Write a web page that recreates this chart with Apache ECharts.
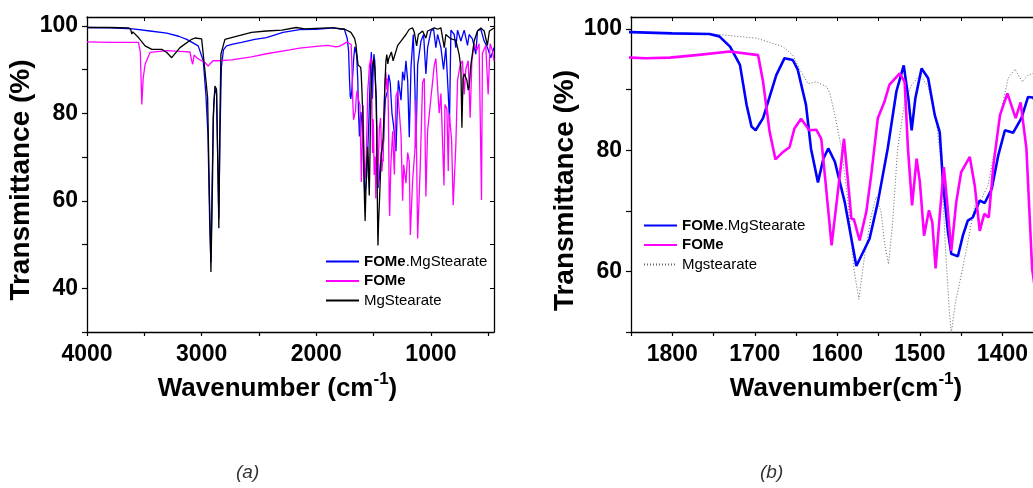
<!DOCTYPE html>
<html>
<head>
<meta charset="utf-8">
<script src="https://cdn.jsdelivr.net/npm/echarts@6/dist/echarts.min.js"></script>
<style>html,body{margin:0;padding:0;background:#fff}#c{width:1033px;height:488px}</style>
</head>
<body>
<div id="c"></div>
<script>
// ---------- data (wavenumber cm-1, transmittance %) ----------
const blueWn = [4000,3800,3600,3450,3304,3200,3130,3030,2986,2963,2945,2930,2919,2908,2895,2884,2870,2860,2850,2840,2828,2810,2783,2728,2652,2537,2435,2290,2145,2000,1900,
 1850,1800,1755,1743,1730,1718,1710,1704,1699,1690,1674,1664,1654,1648,1638,1632,1623.5,1617,1611,1603,1591,1577,1567,1561,1551,1539,1528.5,1519.6,1514,1510,1505.5,1498,1490,1482,1476,1472,1466,1462,1460,1454,1448,1442,1436,1427.5,1421.5,1413,1405,1397,1387,1377,1369,1363,
 1355,1340,1325,1305,1290,1284,1261,1247,1232,1218,1203,1189,1174,1154,1139,1131,1116,1087,1064,1044,1029,1000,977,957,942,913,890,870,850,838,826,797,783,768,739,710,681,667,638,609,594,565,536,507,478,450];
const blueT = [99.6,99.5,99.3,98.8,98.3,97.6,96.9,95.4,92.0,84.3,75,55,46,65,82,85.5,84.5,70,56,75,90.5,94.5,95.4,95.8,96.2,96.9,97.3,98.5,99.1,99.2,99.4,
 99.5,99.3,99.2,98.8,97.1,94.1,87.5,83.9,83.3,85.3,92.4,95.2,94.9,93.3,87.5,80.3,74.7,78.6,80.3,78.1,71.4,60.9,63.7,65.4,71.4,80.3,89.7,94.0,88.6,83.3,88.6,93.5,91.9,85.8,83.0,74.7,66.5,62.9,63.0,62.5,65.9,68.4,68.9,71.7,71.3,73.6,79.2,83.3,82.9,85.3,88.8,88.7,
 87,80,77,71.3,84,87.5,83,89.5,87.5,92,87.5,74.5,90.5,98,85,72.1,91,96.5,98,89,95,98.8,99.2,95,98,95,90,95,85,78,99,98,95,99,96.5,99,95.5,98,97,93.5,98.8,99.2,96.5,95,92.7,95];

const magWn = [4000,3800,3600,3551,3535,3522,3510,3493,3450,3304,3150,3102,3087,3078,3065,3040,3000,2971,2943,2920,2900,2856,2739,2565,2435,2232,2145,2000,1900,
 1850,1832,1803,1771,1730,1696,1690,1682,1675,1666,1658,1652,1644,1634,1625.5,1619.5,1613.5,1607,1599,1592,1587,1583,1580,1573,1565,1559,1551,1543,1537,1524.5,1518.5,1514.5,1509.5,1504,1500,1495,1489,1485,1481,1476,1471,1467,1462,1456,1450,1439.6,1433.6,1427.5,1422,1420,1416.6,1411,1403,1394,1384,1378,1371,1364,
 1360,1350,1334,1319,1305,1290,1261,1247,1238,1218,1203,1189,1180,1160,1139,1131,1116,1093,1073,1058,1044,1029,1000,971,957,928,913,886,878,861,849,841,820,806,783,768,745,725,710,696,675,658,643,623,600,580,559,551,522,501,484,464,450];
const magT = [96.3,96.2,96.2,96.2,94,82.0,88,91.2,93.9,94.3,94.1,94.0,92.0,91.2,93.3,92.6,92,91.6,90.8,91.5,92,92,92.2,92.9,93.6,94.5,94.9,95.3,95.5,
 95.3,95.2,95.3,95.7,96.3,95.7,91.3,83.0,78.5,79.7,80.5,83.6,85.2,83.3,83.4,81.9,73.6,64.3,73.6,81.9,74.7,68.7,68.6,65.1,69.8,75.9,85.3,88.0,90.8,92.7,91.3,80.3,70.9,78.6,74.7,65.9,70.1,68.1,60.5,69.2,77.2,71.4,63.4,71.4,76.4,78.9,74.2,66.7,69.5,69.8,68.9,77.5,85.8,89.4,85.3,87.9,80.3,60.4,
 56.5,68,75.9,66,84,85.1,75.1,60,68.2,64.0,71,69,52.2,64.5,72,83,51.4,68,87,88,61,76,83.5,91,92.5,80,84.5,63.5,82,81,66.8,80,74,59,72.6,87.5,91,92,84.3,90,92,79,92,95.9,94.4,95.9,60.2,93.7,95.5,84.3,95.9,94.4,92];

const mgWn = [4000,3800,3638,3620,3609,3600,3551,3493,3435,3348,3304,3261,3189,3087,3058,3000,2986,2971,2957,2948,2935,2919,2905,2899,2884,2870,2860,2850,2840,2832,2797,2682,2565,2435,2300,2175,2100,2000,1900,
 1850,1751,1698,1666,1654,1646,1635.6,1625.5,1613,1609,1603,1595,1587,1580,1574,1567,1559,1553,1547,1543,1538,1533,1527,1518.4,1510,1500,1490,1480,1474,1469,1464,1462,1457,1450,1442,1433.5,1425.5,1417.5,1409,1401,1393,1385,1376,1369,1363,
 1345,1330,1319,1290,1261,1218,1189,1160,1145,1125,1110,1073,1044,1029,971,942,913,884,870,826,783,754,739,730,720,710,687,675,667,652,623,594,565,536,508,490,450];
const mgT = [99.6,99.6,99.5,99.3,98.1,98.6,97.3,95.4,94.6,94.6,93.9,92.7,95.0,96.9,97.2,97,96.6,89.7,89.3,83.6,65,43.7,65,79,86.2,85.5,70,53.7,80,93.5,96.9,97.7,98.5,98.8,99.0,99.6,99.3,99.4,99.5,
 99.5,99.2,98.5,97.1,95.7,93.5,91.0,91.3,90.5,89.4,85.8,80.3,71.4,60.4,55.4,62.6,69.2,72.3,69.8,64.8,61.2,68.1,80.3,88.0,90.8,92.4,90.5,84.7,77.5,63.7,52.7,49.8,54.9,59.3,64.8,70.9,72.0,74.2,80.3,86.9,91.9,93.4,91.3,92.4,92.7,
 94,92,92,95.5,96.5,98,99.2,99.5,98.5,95.4,98,98.8,97.2,98.8,99.5,99.2,99.5,95,98,97,96.7,93.4,90.5,76.7,88,89,87.6,85.3,86,91,96.5,98.8,99.5,98.8,95.5,98.8,99.5];

// ticks / labels
const xTicksA = [500,1000,1500,2000,2500,3000,3500,4000];
const xLabelsA = [1000,2000,3000,4000];
const yTicksA = [30,40,50,60,70,80,90,100];
const yLabelsA = [40,60,80,100];
const xTicksB = [1350,1400,1450,1500,1550,1600,1650,1700,1750,1800,1850];
const xLabelsB = [1400,1500,1600,1700,1800];
const yTicksB = [50,60,70,80,90,100];
const yLabelsB = [60,80,100];

const zip = (a, b) => a.map((v, i) => [v, b[i]]);

const FONT = "'Liberation Sans', Arial, sans-serif";
const AX = '#000';

function bottomX(grid, min, max, ticks, labels, name, pad) {
  return {
    type: 'value', gridIndex: grid, min, max, inverse: true, position: 'bottom',
    axisLine: {show: true, onZero: false, lineStyle: {color: AX, width: 1.3}},
    axisTick: {show: true, inside: false, length: 4, customValues: ticks, lineStyle: {color: AX, width: 1.2}},
    axisLabel: {show: true, customValues: labels, margin: 11, color: '#000', fontSize: 23, fontWeight: 'bold', fontFamily: FONT, formatter: v => String(v)},
    splitLine: {show: false},
    name, nameLocation: 'middle', nameGap: 36,
    nameTextStyle: {color: '#000', fontSize: 26, fontWeight: 'bold', fontFamily: FONT, padding: pad, lineHeight: 36,
      rich: {s: {fontSize: 17, fontWeight: 'bold', fontFamily: FONT, color: '#000', verticalAlign: 'top', lineHeight: 17}}}
  };
}
function topX(grid, min, max, ticks) {
  return {
    type: 'value', gridIndex: grid, min, max, inverse: true, position: 'top',
    axisLine: {show: true, onZero: false, lineStyle: {color: AX, width: 1.3}},
    axisTick: {show: true, inside: true, length: 4, customValues: ticks, lineStyle: {color: AX, width: 1}},
    axisLabel: {show: false}, splitLine: {show: false}
  };
}
function leftY(grid, min, max, ticks, labels, pad, gap) {
  return {
    type: 'value', gridIndex: grid, min, max, position: 'left',
    axisLine: {show: true, onZero: false, lineStyle: {color: AX, width: 1.3}},
    axisTick: {show: true, inside: false, length: 5, customValues: ticks, lineStyle: {color: AX, width: 1.2}},
    axisLabel: {show: true, customValues: labels, margin: 9, color: '#000', fontSize: 23, fontWeight: 'bold', fontFamily: FONT, formatter: v => String(v)},
    splitLine: {show: false},
    name: 'Transmittance (%)', nameLocation: 'middle', nameRotate: 90, nameGap: gap,
    nameTextStyle: {color: '#000', fontSize: 28, fontWeight: 'bold', fontFamily: FONT, padding: pad}
  };
}

const legendText = {
  'FOMe.MgStearate': '{b|FOMe}.MgStearate',
  'FOMe': '{b|FOMe}',
  'MgStearate': 'MgStearate',
  'FOMe.MgStearate ': '{b|FOMe}.MgStearate',
  'FOMe ': '{b|FOMe}',
  'Mgstearate': 'Mgstearate'
};
const legendStyle = {
  color: '#000', fontSize: 15, fontFamily: FONT,
  rich: {b: {fontWeight: 'bold', fontSize: 15, fontFamily: FONT, color: '#000'}}
};

const option = {
  animation: false,
  backgroundColor: '#fff',
  grid: [
    {left: 87, top: 17, width: 407, height: 315, outerBoundsMode: 'none', containLabel: false},
    {left: 631, top: 17, width: 454, height: 315, outerBoundsMode: 'none', containLabel: false}
  ],
  xAxis: [
    bottomX(0, 450, 4000, xTicksA, xLabelsA, 'Wavenumber (cm{s|-1})', [0, 26, 0, 0]),
    topX(0, 450, 4000, xTicksA),
    bottomX(1, 1300, 1850, xTicksB, xLabelsB, 'Wavenumber(cm{s|-1})', [0, 24, 0, 0]),
    topX(1, 1300, 1850, xTicksB)
  ],
  yAxis: [
    leftY(0, 30, 102, yTicksA, yLabelsA, [0, 11, 0, 0], 48),
    {
      type: 'value', gridIndex: 0, min: 30, max: 102, position: 'right',
      axisLine: {show: true, onZero: false, lineStyle: {color: AX, width: 1.3}},
      axisTick: {show: true, inside: true, length: 4, customValues: yTicksA, lineStyle: {color: AX, width: 1}},
      axisLabel: {show: false}, splitLine: {show: false}
    },
    leftY(1, 50, 102, yTicksB, yLabelsB, [0, 32, 0, 0], 45)
  ],
  legend: [
    {data: ['FOMe.MgStearate', 'FOMe', 'MgStearate'], orient: 'vertical', left: 320, top: 249,
      itemWidth: 33, itemHeight: 14, itemGap: 4.5, selectedMode: false,
      itemStyle: {opacity: 0},
      formatter: n => legendText[n], textStyle: legendStyle},
    {data: ['FOMe.MgStearate ', 'FOMe ', 'Mgstearate'], orient: 'vertical', left: 638, top: 213,
      itemWidth: 33, itemHeight: 14, itemGap: 4.5, selectedMode: false,
      itemStyle: {opacity: 0},
      formatter: n => legendText[n], textStyle: legendStyle}
  ],
  series: [
    {name: 'FOMe.MgStearate', type: 'line', xAxisIndex: 0, yAxisIndex: 0, symbol: 'none', data: zip(blueWn, blueT), lineStyle: {color: '#0000ff', width: 1.3}, itemStyle: {color: '#0000ff'}},
    {name: 'FOMe', type: 'line', xAxisIndex: 0, yAxisIndex: 0, symbol: 'none', data: zip(magWn, magT), lineStyle: {color: '#ff00ff', width: 1.3}, itemStyle: {color: '#ff00ff'}},
    {name: 'MgStearate', type: 'line', xAxisIndex: 0, yAxisIndex: 0, symbol: 'none', data: zip(mgWn, mgT), lineStyle: {color: '#000000', width: 1.3}, itemStyle: {color: '#000000'}},
    {name: 'Mgstearate', type: 'line', xAxisIndex: 2, yAxisIndex: 2, symbol: 'none', data: zip(mgWn, mgT), lineStyle: {color: '#666666', width: 1, type: [1, 2]}, itemStyle: {color: '#666666'}},
    {name: 'FOMe.MgStearate ', type: 'line', xAxisIndex: 2, yAxisIndex: 2, symbol: 'none', data: zip(blueWn, blueT), lineStyle: {color: '#0000ff', width: 2.6}, itemStyle: {color: '#0000ff'}},
    {name: 'FOMe ', type: 'line', xAxisIndex: 2, yAxisIndex: 2, symbol: 'none', data: zip(magWn, magT), lineStyle: {color: '#ff00ff', width: 2.6}, itemStyle: {color: '#ff00ff'}}
  ],
  graphic: [
    {type: 'text', left: 236, top: 463, style: {text: '(a)', font: "italic 19px 'Liberation Sans', Arial, sans-serif", fill: '#333'}},
    {type: 'text', left: 760, top: 463, style: {text: '(b)', font: "italic 19px 'Liberation Sans', Arial, sans-serif", fill: '#333'}}
  ]
};

const chart = echarts.init(document.getElementById('c'), null, {renderer: 'canvas', width: 1033, height: 488});
chart.setOption(option);
</script>
</body>
</html>
